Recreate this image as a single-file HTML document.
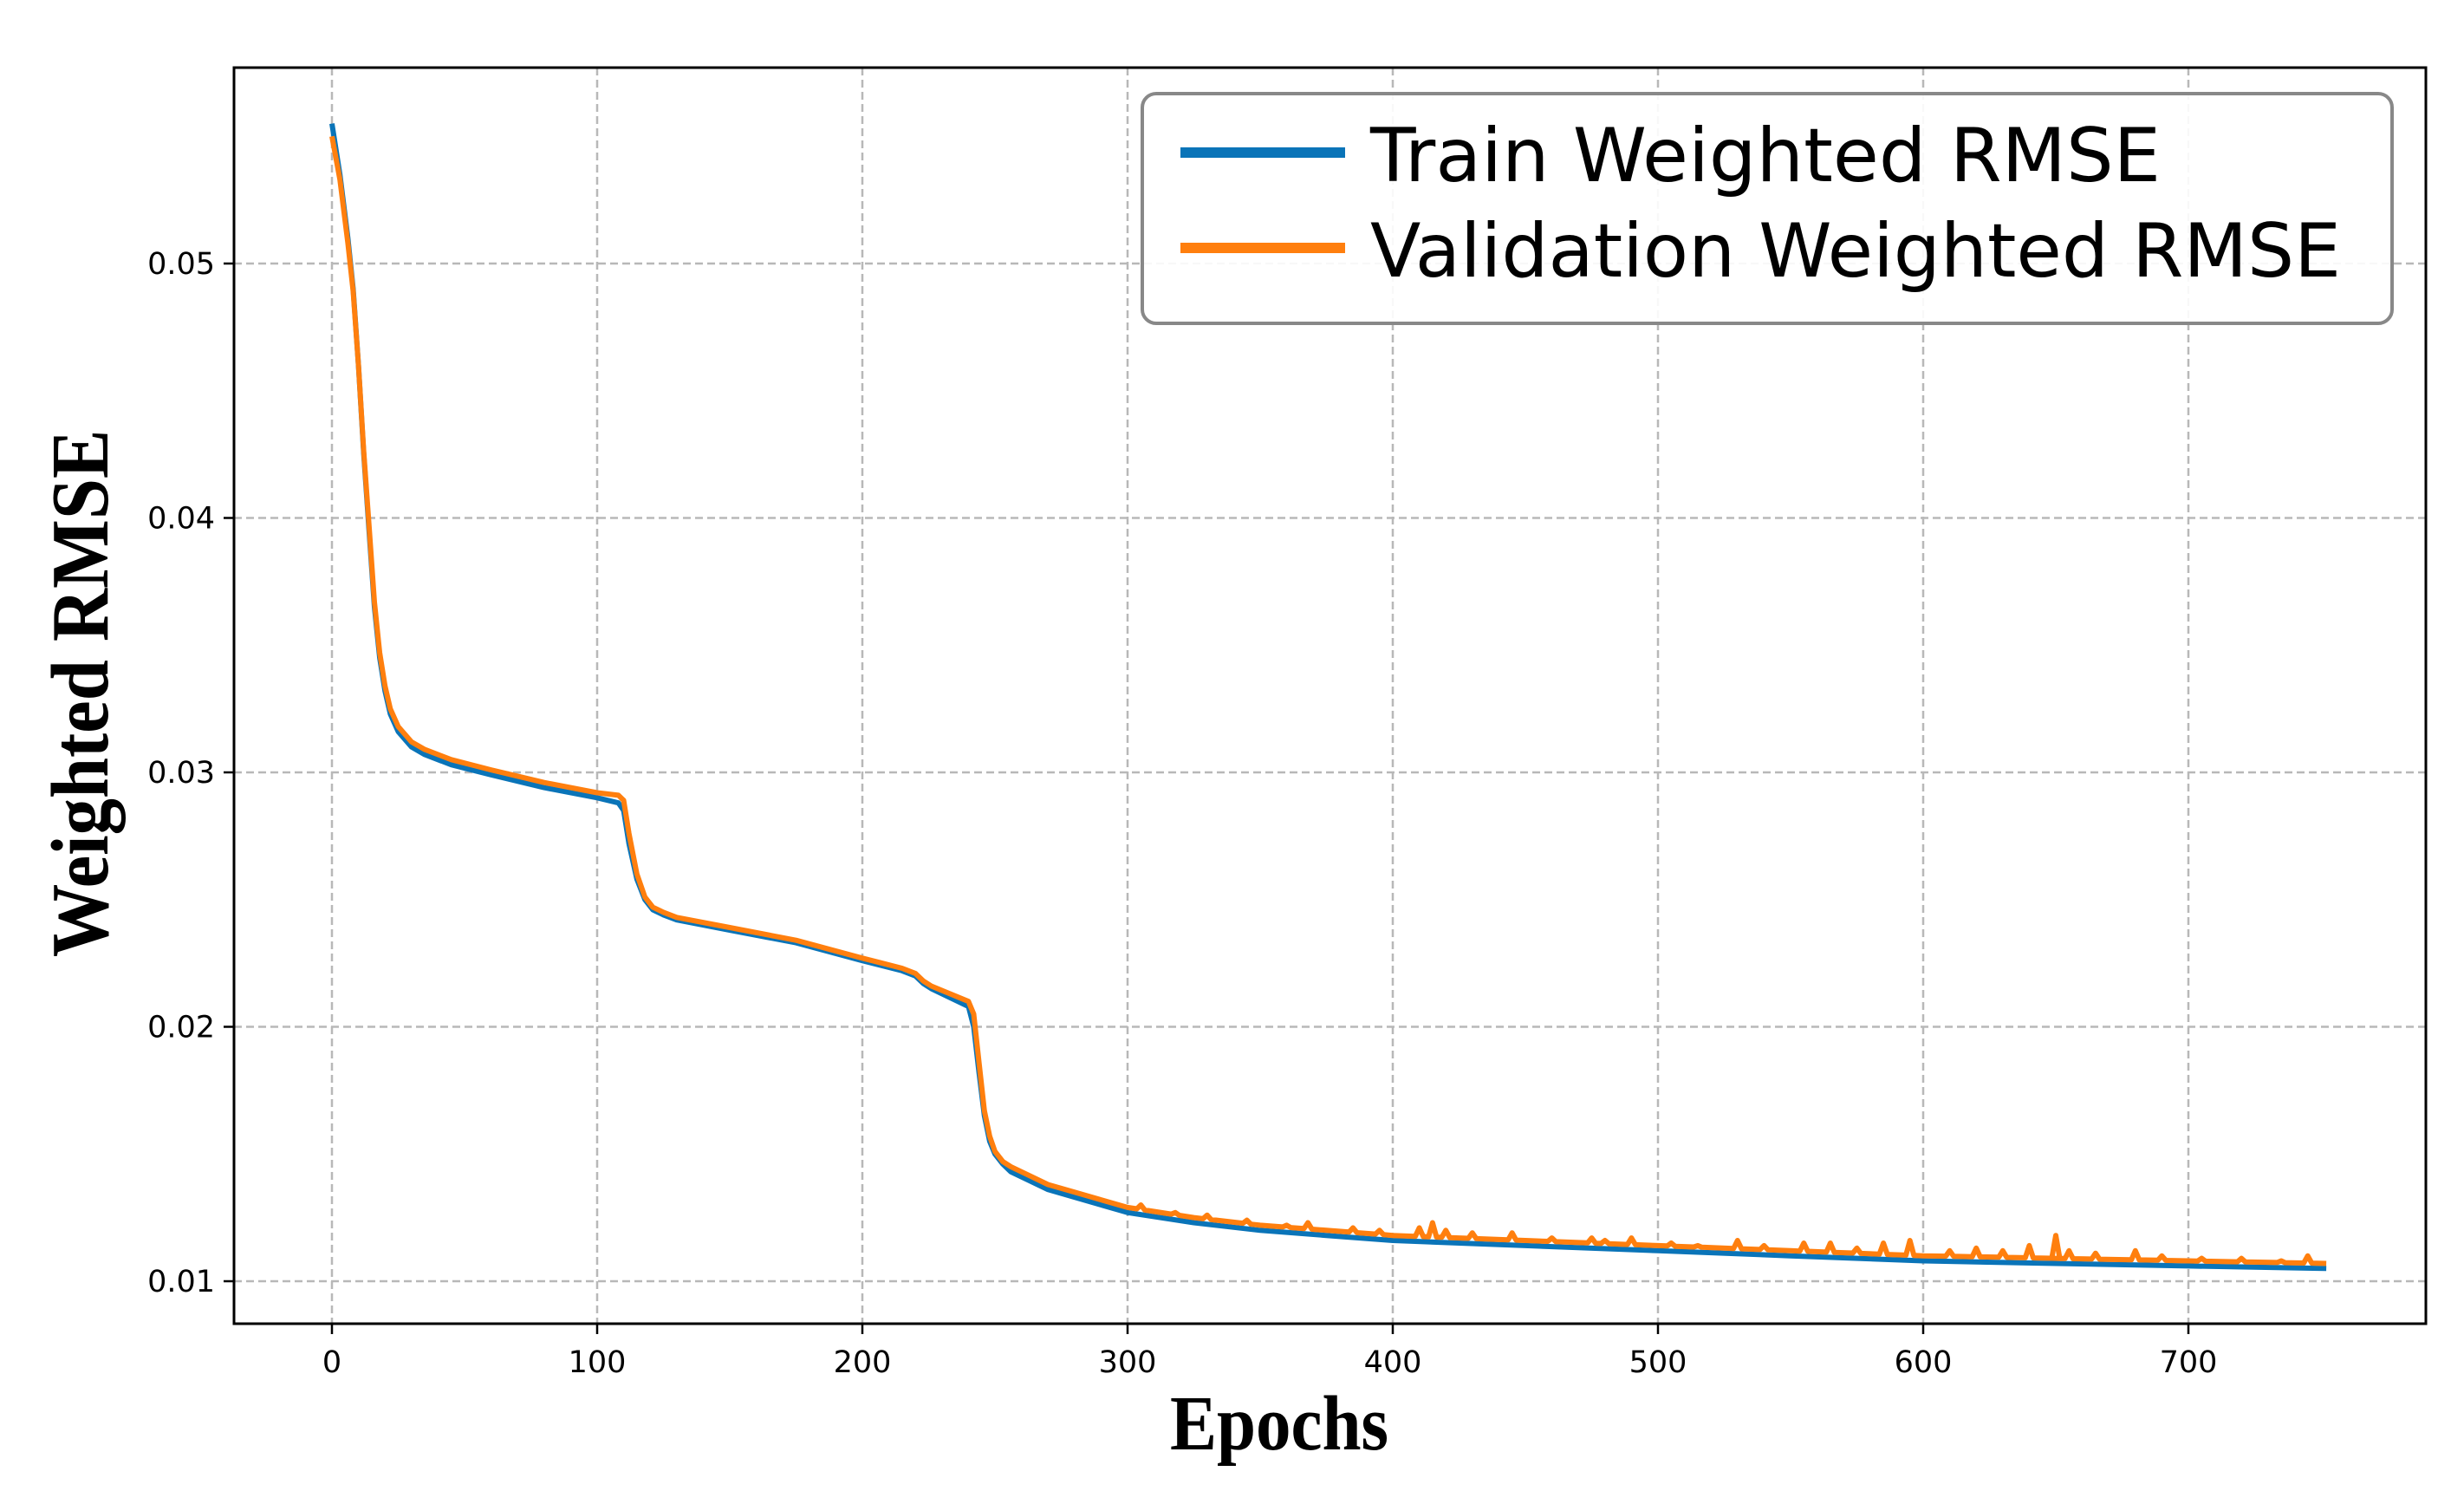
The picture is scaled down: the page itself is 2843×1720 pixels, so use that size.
<!DOCTYPE html>
<html><head><meta charset="utf-8"><style>html,body{margin:0;padding:0;background:#fff}svg{display:block}</style></head>
<body>
<svg id="chart" width="2843" height="1720" viewBox="0 0 2843 1720" xmlns="http://www.w3.org/2000/svg">
<rect x="0" y="0" width="2843" height="1720" fill="#fff"/>
<g id="grid"></g>
<g id="series"></g>
<rect x="270" y="78" width="2529" height="1449" fill="none" stroke="#000" stroke-width="3"/>
<g id="ticks"></g>
<text x="1476" y="1672" text-anchor="middle" font-family="Liberation Serif, serif" font-weight="bold" font-size="90" transform="translate(1476 1672) scale(0.9 1) translate(-1476 -1672)">Epochs</text>
<text x="0" y="0" text-anchor="middle" font-family="Liberation Serif, serif" font-weight="bold" font-size="94" transform="translate(124 800) rotate(-90) scale(0.9 1)">Weighted RMSE</text>
<g>
<rect x="1318" y="108" width="1442" height="265" rx="16" fill="#fff" fill-opacity="0.9" stroke="#888" stroke-width="4"/>
<line x1="1362" y1="176" x2="1552" y2="176" stroke="#0a74b8" stroke-width="12"/>
<text x="1581" y="209" font-family="DejaVu Sans, sans-serif" font-size="86" textLength="912" lengthAdjust="spacingAndGlyphs">Train Weighted RMSE</text>
<line x1="1362" y1="286" x2="1552" y2="286" stroke="#ff7f0e" stroke-width="12"/>
<text x="1581" y="319" font-family="DejaVu Sans, sans-serif" font-size="86" textLength="1120" lengthAdjust="spacingAndGlyphs">Validation Weighted RMSE</text>
</g>
</svg>
<script>
const epochs = [0,3,6,8,10,12,14,16,18,20,22,25,30,35,45,60,80,100,108,110,112,115,118,121,125,130,150,175,200,215,220,223,226,240,242,244,246,248,250,253,256,262,270,280,300,325,350,375,400,450,500,550,600,650,700,752];
const trainValues = [0.0555,0.0535,0.0510,0.0490,0.0460,0.0425,0.0395,0.0365,0.0345,0.0332,0.0323,0.0316,0.0310,0.0307,0.0303,0.0299,0.0294,0.0290,0.0288,0.0285,0.0272,0.0258,0.0250,0.0246,0.0244,0.0242,0.0238,0.0233,0.0226,0.0222,0.0220,0.0217,0.0215,0.0208,0.0200,0.0182,0.0165,0.0155,0.0150,0.0146,0.0143,0.0140,0.0136,0.0133,0.0127,0.0123,0.0120,0.0118,0.0116,0.0114,0.0112,0.0110,0.0108,0.0107,0.0106,0.0105];
const validationValues = [0.0550,0.0533,0.0508,0.0489,0.0460,0.0426,0.0397,0.0367,0.0347,0.0334,0.0325,0.0318,0.0312,0.0309,0.0305,0.0301,0.0296,0.0292,0.0291,0.0289,0.0276,0.0260,0.0251,0.0247,0.0245,0.0243,0.0239,0.0234,0.0227,0.0223,0.0221,0.0218,0.0216,0.0210,0.0205,0.0186,0.0167,0.0157,0.0151,0.0147,0.0145,0.0142,0.0138,0.0135,0.0129,0.0125,0.0122,0.0120,0.0118,0.0116,0.0114,0.0112,0.0110,0.0109,0.0108,0.0107];
const spikeEpochs = [305,318,330,345,360,368,385,395,410,415,420,430,445,460,475,480,490,505,515,530,540,555,565,575,585,595,610,620,630,640,650,655,665,680,690,705,720,735,745];
const spikeValues = [0.0130,0.0127,0.0126,0.0124,0.0122,0.0123,0.0121,0.0120,0.0121,0.0123,0.0120,0.0119,0.0119,0.0117,0.0117,0.0116,0.0117,0.0115,0.0114,0.0116,0.0114,0.0115,0.0115,0.0113,0.0115,0.0116,0.0112,0.0113,0.0112,0.0114,0.0118,0.0112,0.0111,0.0112,0.0110,0.0109,0.0109,0.0108,0.0110];
const xTicks = [0,100,200,300,400,500,600,700];
const yTicks = [0.01,0.02,0.03,0.04,0.05];
const xTickLabels = ["0","100","200","300","400","500","600","700"];
const yTickLabels = ["0.01","0.02","0.03","0.04","0.05"];

const NS = "http://www.w3.org/2000/svg";
const L = 270, R = 2799, T = 78, B = 1527;
function xScale(e){ return 383 + (e - 0) * 3.06; }
function yScale(v){ return 1478 - (v - 0.01) * 29350; }
function mk(tag, attrs, parent){ const el = document.createElementNS(NS, tag); for (const k in attrs) el.setAttribute(k, attrs[k]); parent.appendChild(el); return el; }

const grid = document.getElementById('grid');
const ticks = document.getElementById('ticks');
xTicks.forEach((t, i) => {
  const x = xScale(t);
  const g = mk('line', {x1:x, y1:T, x2:x, y2:B, stroke:'#b8b8b8', 'stroke-width':2.5, 'stroke-dasharray':'9 5'}, grid);
  
  
  const tk = mk('line', {x1:x, y1:B, x2:x, y2:B+12, stroke:'#000', 'stroke-width':2.5}, ticks);
  
  
  const tx = mk('text', {x:x, y:B+56, 'text-anchor':'middle', 'font-family':'DejaVu Sans, sans-serif', 'font-size':35}, ticks);
  tx.textContent = xTickLabels[i];
  
  
});
yTicks.forEach((t, i) => {
  const y = yScale(t);
  const g = mk('line', {x1:L, y1:y, x2:R, y2:y, stroke:'#b8b8b8', 'stroke-width':2.5, 'stroke-dasharray':'9 5'}, grid);
  
  
  const tk = mk('line', {x1:L-12, y1:y, x2:L, y2:y, stroke:'#000', 'stroke-width':2.5}, ticks);
  
  
  const tx = mk('text', {x:L-22, y:y+12, 'text-anchor':'end', 'font-family':'DejaVu Sans, sans-serif', 'font-size':35}, ticks);
  tx.textContent = yTickLabels[i];
  
  
});

const series = document.getElementById('series');
const trainPts = epochs.map((e, i) => xScale(e).toFixed(1) + ',' + yScale(trainValues[i]).toFixed(1)).join(' ');
const tl = mk('polyline', {points:trainPts, fill:'none', stroke:'#0a74b8', 'stroke-width':6, 'stroke-linejoin':'round'}, series);



const vPts = epochs.map((e, i) => [e, validationValues[i]]);
spikeEpochs.forEach((e, i) => vPts.push([e, spikeValues[i]]));
vPts.sort((a, b) => a[0] - b[0]);
function baseVal(e){
  for (let i = 0; i < epochs.length - 1; i++) {
    if (e >= epochs[i] && e <= epochs[i+1]) {
      const f = (e - epochs[i]) / (epochs[i+1] - epochs[i]);
      return validationValues[i] + f * (validationValues[i+1] - validationValues[i]);
    }
  }
  return validationValues[validationValues.length - 1];
}
const out = [];
vPts.forEach(p => {
  if (spikeEpochs.indexOf(p[0]) >= 0) {
    out.push([p[0] - 1.5, baseVal(p[0] - 1.5)]);
    out.push(p);
    out.push([p[0] + 1.5, baseVal(p[0] + 1.5)]);
  } else out.push(p);
});
const valPts = out.map(p => xScale(p[0]).toFixed(1) + ',' + yScale(p[1]).toFixed(1)).join(' ');
const vl = mk('polyline', {points:valPts, fill:'none', stroke:'#ff7f0e', 'stroke-width':6, 'stroke-linejoin':'round'}, series);


</script>
</body></html>
